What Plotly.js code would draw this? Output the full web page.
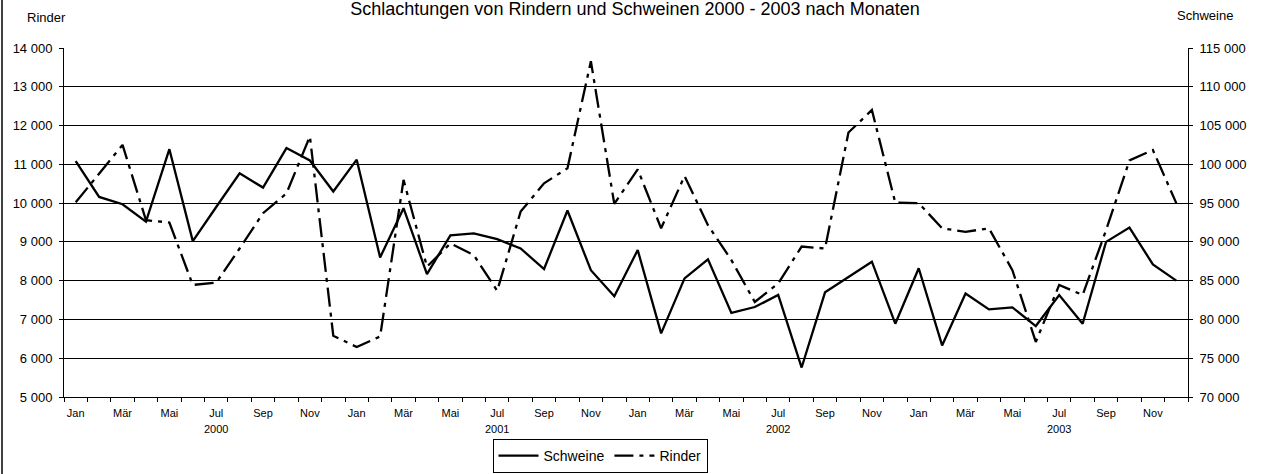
<!DOCTYPE html>
<html>
<head>
<meta charset="utf-8">
<script src="https://cdn.plot.ly/plotly-3.0.1.min.js"></script>
<style>
html,body{margin:0;padding:0;background:#fff;}
#chart{width:1261px;height:474px;}
</style>
</head>
<body>
<div id="chart"></div>
<script>
// ---- data ----
const monthNames = ["Jan","Feb","Mär","Apr","Mai","Jun","Jul","Aug","Sep","Okt","Nov","Dez"];
const years = ["2000","2001","2002","2003"];
const schweine = [
  100400, 95800, 94850, 92600, 101950, 90100, 94500, 98850, 97000, 102100, 100500, 96500,
  100600, 88000, 94350, 85850, 90850, 91100, 90350, 89150, 86500, 94050, 86350, 83000,
  88950, 78200, 85300, 87750, 80850, 81600, 83150, 73800, 83500, 85500, 87450, 79450,
  86600, 76650, 83350, 81300, 81550, 79150, 83150, 79450, 90000, 91850, 87100, 85000
];
const rinder = [
  10020, 10750, 11500, 9560, 9500, 7890, 7950, 8830, 9740, 10250, 11720, 6580,
  6290, 6560, 10600, 8360, 8960, 8660, 7740, 9780, 10510, 10900, 13660, 9980,
  10870, 9350, 10700, 9430, 8530, 7450, 7930, 8880, 8830, 11820, 12400, 10010,
  10000, 9350, 9260, 9350, 8270, 6420, 7890, 7630, 9300, 11100, 11370, 10000
];
const titleText = "Schlachtungen von Rindern und Schweinen 2000 - 2003 nach Monaten";

// ---- derived ----
const xIdx = [];
const cats = [];
years.forEach((y, yi) => monthNames.forEach((m, mi) => { xIdx.push(yi*12+mi); cats.push(m + " " + y); }));
const tickVals = [], tickText = [];
xIdx.forEach(i => { if (i % 2 === 0) { tickVals.push(i); tickText.push(monthNames[i % 12]); } });
const minorVals = [];
for (let i = 0; i <= xIdx.length; i++) minorVals.push(i - 0.5);

const FONT = "Liberation Sans, Arial, sans-serif";
const W = 1261, H = 474;
const M = {l: 64, r: 73, t: 48, b: 77, autoexpand: false};
const PW = W - M.l - M.r, PH = H - M.t - M.b;
const px = x => (x - M.l) / PW;
const py = y => (H - M.b - y) / PH;

const traces = [
  {
    x: xIdx, y: schweine, name: "Schweine", yaxis: "y2", type: "scatter", mode: "lines",
    line: {color: "#000", width: 2.3}, text: cats
  },
  {
    x: xIdx, y: rinder, name: "Rinder", yaxis: "y", type: "scatter", mode: "lines",
    line: {color: "#000", width: 2.3, dash: "19px,6px,4px,6px"}, text: cats
  }
];

const annotations = years.map((y, yi) => ({
  text: y, x: yi*12 + 6, xref: "x", y: py(429), yref: "paper",
  showarrow: false, font: {family: FONT, size: 11, color: "#000"}, xanchor: "center", yanchor: "middle"
}));
annotations.push({text: "Rinder", x: px(46), y: py(18), xref: "paper", yref: "paper", showarrow: false,
  font: {family: FONT, size: 13, color: "#000"}, xanchor: "center", yanchor: "middle"});
annotations.push({text: "Schweine", x: px(1205), y: py(16), xref: "paper", yref: "paper", showarrow: false,
  font: {family: FONT, size: 13, color: "#000"}, xanchor: "center", yanchor: "middle"});

const layout = {
  width: W, height: H,
  margin: M,
  paper_bgcolor: "#fff", plot_bgcolor: "#fff",
  separators: ", ",
  font: {family: FONT, color: "#000"},
  title: {
    text: titleText, font: {family: FONT, size: 18, color: "#000"},
    x: 635 / W, xref: "container", xanchor: "center",
    y: 1 - 9 / H, yref: "container", yanchor: "middle"
  },
  showlegend: true,
  legend: {
    orientation: "h", x: px(600), xanchor: "center", y: py(439), yanchor: "top",
    bordercolor: "#000", borderwidth: 1, bgcolor: "#fff",
    font: {family: FONT, size: 14, color: "#000"},
    itemwidth: 40, tracegroupgap: 0
  },
  xaxis: {
    range: [-0.5, xIdx.length - 0.5], tickmode: "array", tickvals: tickVals, ticktext: tickText,
    ticks: "", showgrid: false, zeroline: false,
    showline: true, linecolor: "#000", linewidth: 1,
    ticklabelstandoff: 6,
    tickfont: {family: FONT, size: 11, color: "#000"},
    minor: {tickmode: "array", tickvals: minorVals, ticks: "outside", ticklen: 4, tickcolor: "#000", tickwidth: 1, showgrid: false}
  },
  yaxis: {
    range: [5000, 14000], tickmode: "linear", tick0: 5000, dtick: 1000, tickformat: ",d",
    showgrid: true, gridcolor: "#000", gridwidth: 1, zeroline: false,
    showline: true, linecolor: "#000", linewidth: 1,
    ticks: "outside", ticklen: 4, tickcolor: "#000", ticklabelstandoff: 4,
    tickfont: {family: FONT, size: 13, color: "#000"}
  },
  yaxis2: {
    range: [70000, 115000], tickmode: "linear", tick0: 70000, dtick: 5000, tickformat: ",d",
    overlaying: "y", side: "right", showgrid: false, zeroline: false,
    showline: true, linecolor: "#000", linewidth: 1,
    ticks: "outside", ticklen: 4, tickcolor: "#000", ticklabelstandoff: 4,
    tickfont: {family: FONT, size: 13, color: "#000"}
  },
  annotations: annotations,
  shapes: [
    {type: "line", xref: "paper", yref: "paper", x0: px(2), x1: px(2), y0: py(0), y1: py(H),
     line: {color: "#000", width: 1.5}}
  ]
};

Plotly.newPlot("chart", traces, layout, {staticPlot: true, displayModeBar: false});
</script>
</body>
</html>
